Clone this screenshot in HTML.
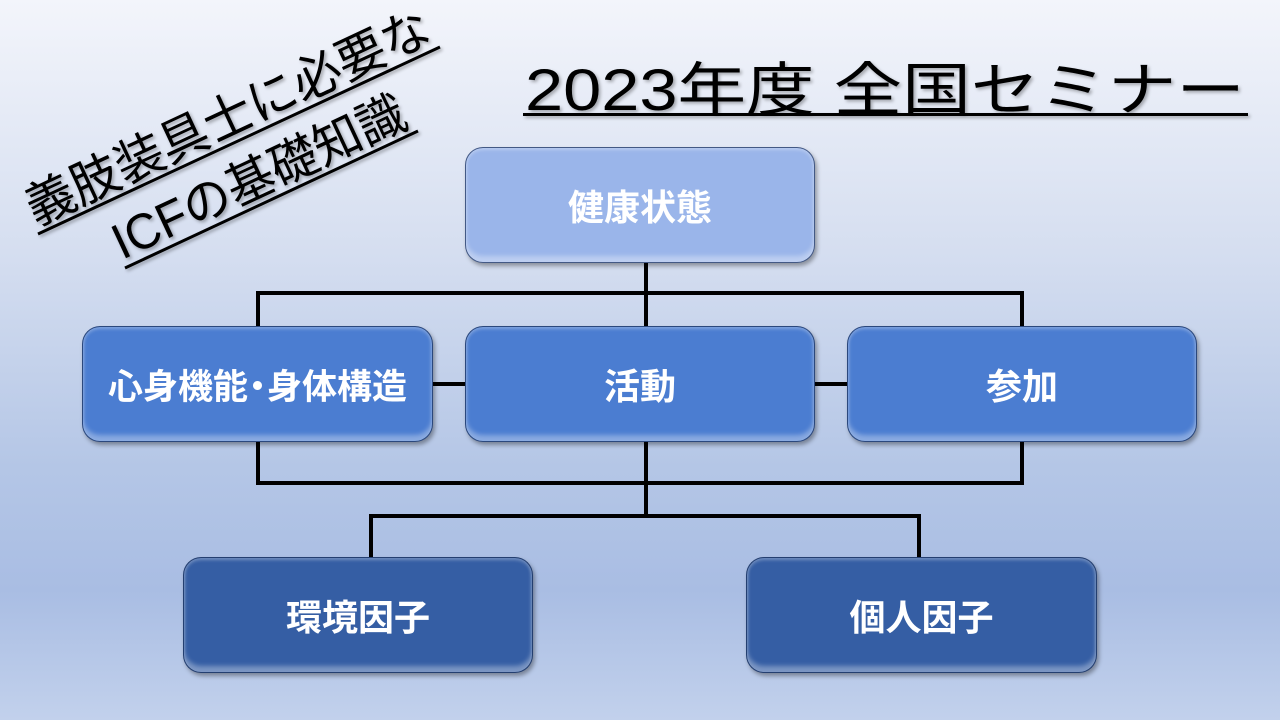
<!DOCTYPE html>
<html><head><meta charset="utf-8"><style>
body{margin:0;width:1280px;height:720px;overflow:hidden;position:relative;
background:linear-gradient(180deg,#f3f5fb 0%,#d5def0 35%,#b4c6e6 65%,#a9bde3 82%,#c2d1ec 100%);
font-family:"Liberation Sans","Noto Sans CJK JP",sans-serif;}
.l{position:absolute;background:#000}
.b{position:absolute;border-radius:18px;color:#fff;font-weight:bold;font-size:36px;display:flex;align-items:center;justify-content:center;
border:1.5px solid rgba(30,50,90,.7);box-shadow:2px 3px 4px rgba(0,0,0,.35), inset 0 -6px 5px rgba(255,255,255,.35), inset 0 2px 3px rgba(255,255,255,.3);box-sizing:border-box}
svg{position:absolute;left:0;top:0}
</style></head><body>
<svg width="1280" height="720" style="z-index:2">
<defs><filter id="s"><feDropShadow dx="2" dy="2" stdDeviation="1.5" flood-opacity="0.3"/></filter></defs>
<g font-family="Liberation Sans, Noto Sans CJK JP, sans-serif" fill="#000" filter="url(#s)">
<text x="525" y="110" font-size="58" textLength="720" lengthAdjust="spacingAndGlyphs">2023年度 全国セミナー</text>
<rect x="523" y="113" width="725" height="3"/>
<text x="36" y="226" font-size="50" transform="rotate(-25 36 226)" textLength="440" lengthAdjust="spacingAndGlyphs">義肢装具士に必要な</text>
<line x1="38" y1="234" x2="440" y2="47" stroke="#000" stroke-width="3"/>
<text x="122" y="260" font-size="50" transform="rotate(-25 122 260)" textLength="318" lengthAdjust="spacingAndGlyphs">ICFの基礎知識</text>
<line x1="125" y1="268" x2="418" y2="131" stroke="#000" stroke-width="3"/>
</g></svg>

<div class="l" style="left:644px;top:262px;width:4px;height:66px"></div>
<div class="l" style="left:256px;top:291px;width:768px;height:4px"></div>
<div class="l" style="left:256px;top:291px;width:4px;height:37px"></div>
<div class="l" style="left:1020px;top:291px;width:4px;height:37px"></div>
<div class="l" style="left:430px;top:382px;width:40px;height:4px"></div>
<div class="l" style="left:812px;top:382px;width:40px;height:4px"></div>
<div class="l" style="left:256px;top:440px;width:4px;height:45px"></div>
<div class="l" style="left:1020px;top:440px;width:4px;height:45px"></div>
<div class="l" style="left:256px;top:481px;width:768px;height:4px"></div>
<div class="l" style="left:644px;top:440px;width:4px;height:78px"></div>
<div class="l" style="left:369px;top:514px;width:552px;height:4px"></div>
<div class="l" style="left:369px;top:514px;width:4px;height:45px"></div>
<div class="l" style="left:917px;top:514px;width:4px;height:45px"></div>

<div class="b" style="left:465px;top:147px;width:350px;height:116px;background:#9ab5ea">健康状態</div>
<div class="b" style="left:82px;top:326px;width:351px;height:116px;background:#4b7dd1;font-size:35px">心身機能<span style="margin:0 -8px">・</span>身体構造</div>
<div class="b" style="left:465px;top:326px;width:350px;height:116px;background:#4b7dd1">活動</div>
<div class="b" style="left:847px;top:326px;width:350px;height:116px;background:#4b7dd1">参加</div>
<div class="b" style="left:183px;top:557px;width:350px;height:116px;background:#355ea4">環境因子</div>
<div class="b" style="left:746px;top:557px;width:351px;height:116px;background:#355ea4">個人因子</div>
</body></html>
